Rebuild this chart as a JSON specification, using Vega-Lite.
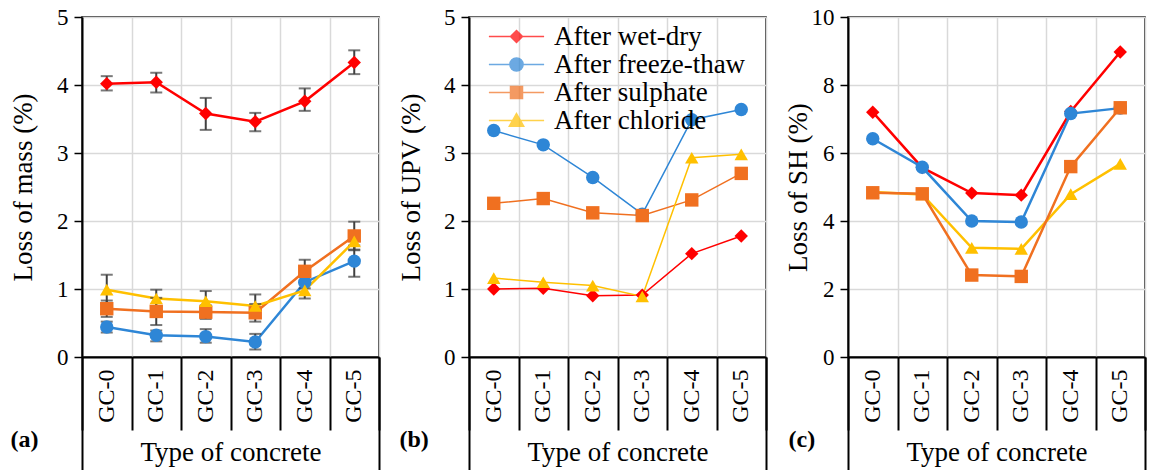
{
  "$schema": "https://vega.github.io/schema/vega-lite/v6.json",
  "padding": {"left": 8, "top": 5, "right": 0, "bottom": 0},
  "spacing": 15,
  "resolve": {"scale": {"color": "independent", "shape": "independent", "fill": "independent"}},
  "config": {
    "font": "Liberation Serif",
    "view": {"stroke": "#000", "strokeWidth": 1.5},
    "style": {"guide-label": {"font": "Liberation Serif"}, "guide-title": {"font": "Liberation Serif"}},
    "axis": {"labelColor": "#000", "titleColor": "#000", "titleFontWeight": "normal", "labelFont": "Liberation Serif", "titleFont": "Liberation Serif"},
    "legend": {"labelFont": "Liberation Serif", "titleFont": "Liberation Serif"}
  },
  "datasets": {
    "mass": [
      {"type": "GC-0", "series": "After wet-dry", "v": 4.02, "lo": 3.92, "hi": 4.13},
      {"type": "GC-1", "series": "After wet-dry", "v": 4.04, "lo": 3.89, "hi": 4.18},
      {"type": "GC-2", "series": "After wet-dry", "v": 3.58, "lo": 3.34, "hi": 3.81},
      {"type": "GC-3", "series": "After wet-dry", "v": 3.46, "lo": 3.32, "hi": 3.59},
      {"type": "GC-4", "series": "After wet-dry", "v": 3.76, "lo": 3.62, "hi": 3.95},
      {"type": "GC-5", "series": "After wet-dry", "v": 4.33, "lo": 4.16, "hi": 4.51},
      {"type": "GC-0", "series": "After freeze-thaw", "v": 0.44, "lo": 0.36, "hi": 0.52},
      {"type": "GC-1", "series": "After freeze-thaw", "v": 0.32, "lo": 0.23, "hi": 0.39},
      {"type": "GC-2", "series": "After freeze-thaw", "v": 0.30, "lo": 0.21, "hi": 0.41},
      {"type": "GC-3", "series": "After freeze-thaw", "v": 0.22, "lo": 0.11, "hi": 0.34},
      {"type": "GC-4", "series": "After freeze-thaw", "v": 1.10, "lo": 1.01, "hi": 1.19},
      {"type": "GC-5", "series": "After freeze-thaw", "v": 1.41, "lo": 1.18, "hi": 1.64},
      {"type": "GC-0", "series": "After sulphate", "v": 0.71, "lo": 0.59, "hi": 0.83},
      {"type": "GC-1", "series": "After sulphate", "v": 0.67, "lo": 0.47, "hi": 0.87},
      {"type": "GC-2", "series": "After sulphate", "v": 0.66, "lo": 0.56, "hi": 0.76},
      {"type": "GC-3", "series": "After sulphate", "v": 0.65, "lo": 0.52, "hi": 0.78},
      {"type": "GC-4", "series": "After sulphate", "v": 1.26, "lo": 1.09, "hi": 1.43},
      {"type": "GC-5", "series": "After sulphate", "v": 1.78, "lo": 1.57, "hi": 1.99},
      {"type": "GC-0", "series": "After chloride", "v": 0.99, "lo": 0.78, "hi": 1.21},
      {"type": "GC-1", "series": "After chloride", "v": 0.86, "lo": 0.74, "hi": 0.99},
      {"type": "GC-2", "series": "After chloride", "v": 0.82, "lo": 0.68, "hi": 0.97},
      {"type": "GC-3", "series": "After chloride", "v": 0.75, "lo": 0.58, "hi": 0.92},
      {"type": "GC-4", "series": "After chloride", "v": 0.98, "lo": 0.86, "hi": 1.10},
      {"type": "GC-5", "series": "After chloride", "v": 1.70, "lo": 1.58, "hi": 1.82}
    ],
    "upv": [
      {"type": "GC-0", "series": "After wet-dry", "v": 1.00},
      {"type": "GC-1", "series": "After wet-dry", "v": 1.01},
      {"type": "GC-2", "series": "After wet-dry", "v": 0.90},
      {"type": "GC-3", "series": "After wet-dry", "v": 0.91},
      {"type": "GC-4", "series": "After wet-dry", "v": 1.52},
      {"type": "GC-5", "series": "After wet-dry", "v": 1.78},
      {"type": "GC-0", "series": "After freeze-thaw", "v": 3.33},
      {"type": "GC-1", "series": "After freeze-thaw", "v": 3.12},
      {"type": "GC-2", "series": "After freeze-thaw", "v": 2.64},
      {"type": "GC-3", "series": "After freeze-thaw", "v": 2.10},
      {"type": "GC-4", "series": "After freeze-thaw", "v": 3.49},
      {"type": "GC-5", "series": "After freeze-thaw", "v": 3.64},
      {"type": "GC-0", "series": "After sulphate", "v": 2.26},
      {"type": "GC-1", "series": "After sulphate", "v": 2.33},
      {"type": "GC-2", "series": "After sulphate", "v": 2.12},
      {"type": "GC-3", "series": "After sulphate", "v": 2.08},
      {"type": "GC-4", "series": "After sulphate", "v": 2.31},
      {"type": "GC-5", "series": "After sulphate", "v": 2.70},
      {"type": "GC-0", "series": "After chloride", "v": 1.16},
      {"type": "GC-1", "series": "After chloride", "v": 1.10},
      {"type": "GC-2", "series": "After chloride", "v": 1.05},
      {"type": "GC-3", "series": "After chloride", "v": 0.89},
      {"type": "GC-4", "series": "After chloride", "v": 2.93},
      {"type": "GC-5", "series": "After chloride", "v": 2.98}
    ],
    "sh": [
      {"type": "GC-0", "series": "After wet-dry", "v": 7.20},
      {"type": "GC-1", "series": "After wet-dry", "v": 5.57},
      {"type": "GC-2", "series": "After wet-dry", "v": 4.82},
      {"type": "GC-3", "series": "After wet-dry", "v": 4.76},
      {"type": "GC-4", "series": "After wet-dry", "v": 7.22},
      {"type": "GC-5", "series": "After wet-dry", "v": 8.97},
      {"type": "GC-0", "series": "After freeze-thaw", "v": 6.42},
      {"type": "GC-1", "series": "After freeze-thaw", "v": 5.58},
      {"type": "GC-2", "series": "After freeze-thaw", "v": 4.00},
      {"type": "GC-3", "series": "After freeze-thaw", "v": 3.97},
      {"type": "GC-4", "series": "After freeze-thaw", "v": 7.16},
      {"type": "GC-5", "series": "After freeze-thaw", "v": 7.32},
      {"type": "GC-0", "series": "After chloride", "v": 4.85},
      {"type": "GC-1", "series": "After chloride", "v": 4.78},
      {"type": "GC-2", "series": "After chloride", "v": 3.21},
      {"type": "GC-3", "series": "After chloride", "v": 3.18},
      {"type": "GC-4", "series": "After chloride", "v": 4.79},
      {"type": "GC-5", "series": "After chloride", "v": 5.68},
      {"type": "GC-0", "series": "After sulphate", "v": 4.83},
      {"type": "GC-1", "series": "After sulphate", "v": 4.80},
      {"type": "GC-2", "series": "After sulphate", "v": 2.41},
      {"type": "GC-3", "series": "After sulphate", "v": 2.37},
      {"type": "GC-4", "series": "After sulphate", "v": 5.60},
      {"type": "GC-5", "series": "After sulphate", "v": 7.33}
    ]
  },
  "hconcat": [
    {
      "width": 297, "height": 340,
      "data": {"name": "mass"},
      "resolve": {"axis": {"x": "independent"}},
      "layer": [
        {
          "mark": {"type": "line", "strokeWidth": 2.5},
          "encoding": {
            "x": {"field": "type", "type": "nominal", "scale": {"type": "band", "paddingInner": 0, "paddingOuter": 0},
              "axis": {"orient": "bottom", "tickBand": "extent", "grid": true, "gridColor": "#d9d9d9", "gridWidth": 1.5, "ticks": true, "tickSize": 73, "tickColor": "#000", "tickWidth": 2, "domain": true, "domainColor": "#000", "domainWidth": 2, "labels": false, "title": null}},
            "y": {"field": "v", "type": "quantitative", "title": "Loss of mass (%)", "scale": {"domain": [0, 5], "nice": false},
              "axis": {"values": [0, 1, 2, 3, 4, 5], "format": "d", "grid": true, "gridColor": "#d9d9d9", "gridWidth": 1.5, "domainColor": "#000", "domainWidth": 2, "tickColor": "#000", "tickWidth": 1.5, "tickSize": 8, "labelFont": "Liberation Serif", "labelFontSize": 23, "labelPadding": 6, "title": "Loss of mass (%)", "titleFont": "Liberation Serif", "titleFontSize": 27, "titleX": -59, "titleBaseline": "middle"}},
            "color": {"field": "series", "type": "nominal", "scale": {"domain": ["After chloride", "After sulphate", "After freeze-thaw", "After wet-dry"], "range": ["#FFC000", "#F07020", "#2E86D6", "#FF0000"]}, "legend": null}
          }
        },
        {
          "mark": {"type": "errorbar", "color": "#404040", "thickness": 2, "ticks": {"size": 12}},
          "encoding": {
            "x": {"field": "type", "type": "nominal", "scale": {"type": "band", "paddingInner": 0, "paddingOuter": 0}, "axis": null},
            "y": {"field": "lo", "type": "quantitative", "title": "Loss of mass (%)"},
            "y2": {"field": "hi"}
          }
        },
        {
          "mark": {"type": "point", "filled": true, "opacity": 1, "size": 180},
          "encoding": {
            "x": {"field": "type", "type": "nominal", "scale": {"type": "band", "paddingInner": 0, "paddingOuter": 0},
              "axis": {"orient": "bottom", "grid": false, "ticks": false, "tickSize": 0, "domain": false, "labels": true, "labelAngle": -90, "labelFont": "Liberation Serif", "labelFontSize": 24, "labelPadding": 12, "title": "Type of concrete", "titleFont": "Liberation Serif", "titleFontSize": 27, "titleY": 95, "titleBaseline": "middle"}},
            "y": {"field": "v", "type": "quantitative", "title": "Loss of mass (%)"},
            "color": {"field": "series", "type": "nominal", "legend": null},
            "shape": {"field": "series", "type": "nominal", "scale": {"domain": ["After freeze-thaw", "After wet-dry", "After sulphate", "After chloride"], "range": ["circle", "diamond", "square", "triangle-up"]}, "legend": null}
          }
        },
        {
          "transform": [{"filter": "false"}],
          "mark": {"type": "point"},
          "encoding": {
            "x": {"field": "type", "type": "nominal", "scale": {"type": "band", "paddingInner": 0, "paddingOuter": 0},
              "axis": {"orient": "bottom", "values": ["GC-0"], "bandPosition": 0, "grid": false, "ticks": true, "tickSize": 114, "tickColor": "#000", "tickWidth": 2, "domain": false, "labels": false, "title": "(a)", "titleFont": "Liberation Serif", "titleFontSize": 24, "titleFontWeight": "bold", "titleX": -72, "titleY": 82, "titleAlign": "left", "titleBaseline": "middle"}}
          }
        },
        {
          "transform": [{"filter": "false"}],
          "mark": {"type": "point"},
          "encoding": {
            "x": {"field": "type", "type": "nominal", "scale": {"type": "band", "paddingInner": 0, "paddingOuter": 0},
              "axis": {"orient": "bottom", "values": ["GC-5"], "bandPosition": 1, "grid": false, "ticks": true, "tickSize": 114, "tickColor": "#000", "tickWidth": 2, "domain": false, "labels": false, "title": null}}
          }
        }
      ]
    },
    {
      "width": 297, "height": 340,
      "data": {"name": "upv"},
      "resolve": {"axis": {"x": "independent"}},
      "layer": [
        {
          "mark": {"type": "line", "strokeWidth": 1.5},
          "encoding": {
            "x": {"field": "type", "type": "nominal", "scale": {"type": "band", "paddingInner": 0, "paddingOuter": 0},
              "axis": {"orient": "bottom", "tickBand": "extent", "grid": true, "gridColor": "#d9d9d9", "gridWidth": 1.5, "ticks": true, "tickSize": 73, "tickColor": "#000", "tickWidth": 2, "domain": true, "domainColor": "#000", "domainWidth": 2, "labels": false, "title": null}},
            "y": {"field": "v", "type": "quantitative", "title": "Loss of UPV (%)", "scale": {"domain": [0, 5], "nice": false},
              "axis": {"values": [0, 1, 2, 3, 4, 5], "format": "d", "grid": true, "gridColor": "#d9d9d9", "gridWidth": 1.5, "domainColor": "#000", "domainWidth": 2, "tickColor": "#000", "tickWidth": 1.5, "tickSize": 8, "labelFont": "Liberation Serif", "labelFontSize": 23, "labelPadding": 6, "title": "Loss of UPV (%)", "titleFont": "Liberation Serif", "titleFontSize": 27, "titleX": -58, "titleBaseline": "middle"}},
            "color": {"field": "series", "type": "nominal", "scale": {"domain": ["After chloride", "After sulphate", "After freeze-thaw", "After wet-dry"], "range": ["#FFC000", "#F07020", "#2E86D6", "#FF0000"]}, "legend": null}
          }
        },
        {
          "mark": {"type": "point", "filled": true, "opacity": 1, "size": 180},
          "encoding": {
            "x": {"field": "type", "type": "nominal", "scale": {"type": "band", "paddingInner": 0, "paddingOuter": 0},
              "axis": {"orient": "bottom", "grid": false, "ticks": false, "tickSize": 0, "domain": false, "labels": true, "labelAngle": -90, "labelFont": "Liberation Serif", "labelFontSize": 24, "labelPadding": 12, "title": "Type of concrete", "titleFont": "Liberation Serif", "titleFontSize": 27, "titleY": 95, "titleBaseline": "middle"}},
            "y": {"field": "v", "type": "quantitative", "title": "Loss of UPV (%)"},
            "color": {"field": "series", "type": "nominal", "legend": null},
            "shape": {"field": "series", "type": "nominal", "scale": {"domain": ["After freeze-thaw", "After wet-dry", "After sulphate", "After chloride"], "range": ["circle", "diamond", "square", "triangle-up"]}, "legend": null}
          }
        },
        {
          "transform": [{"filter": "false"}],
          "mark": {"type": "point"},
          "encoding": {
            "x": {"field": "type", "type": "nominal", "scale": {"type": "band", "paddingInner": 0, "paddingOuter": 0},
              "axis": {"orient": "bottom", "values": ["GC-0"], "bandPosition": 0, "grid": false, "ticks": true, "tickSize": 114, "tickColor": "#000", "tickWidth": 2, "domain": false, "labels": false, "title": "(b)", "titleFont": "Liberation Serif", "titleFontSize": 24, "titleFontWeight": "bold", "titleX": -70, "titleY": 82, "titleAlign": "left", "titleBaseline": "middle"}}
          }
        },
        {
          "transform": [{"filter": "false"}],
          "mark": {"type": "point"},
          "encoding": {
            "x": {"field": "type", "type": "nominal", "scale": {"type": "band", "paddingInner": 0, "paddingOuter": 0},
              "axis": {"orient": "bottom", "values": ["GC-5"], "bandPosition": 1, "grid": false, "ticks": true, "tickSize": 114, "tickColor": "#000", "tickWidth": 2, "domain": false, "labels": false, "title": null}}
          }
        },
        {
          "transform": [{"filter": "false"}],
          "mark": {"type": "point", "filled": true},
          "encoding": {
            "fill": {"field": "series", "type": "nominal", "scale": {"domain": ["After wet-dry", "After freeze-thaw", "After sulphate", "After chloride"], "range": ["#FF0000", "#2E86D6", "#F07020", "#FFC000"]},
              "legend": {"title": null, "orient": "none", "legendX": 34, "legendY": 6, "labelFont": "Liberation Serif", "labelFontSize": 27, "labelColor": "#000", "symbolSize": 144, "symbolStrokeWidth": 1.5,
                "symbolStrokeColor": {"expr": "datum.value === 'After wet-dry' ? '#FF0000' : datum.value === 'After freeze-thaw' ? '#2E86D6' : datum.value === 'After sulphate' ? '#F07020' : '#FFC000'"},
                "symbolType": {"expr": "datum.value === 'After wet-dry' ? 'M-4.6,0H4.6M0,-1L1,0L0,1L-1,0Z' : datum.value === 'After freeze-thaw' ? 'M-4.6,0H4.6M1.1,0A1.1,1.1,0,1,1,-1.1,0A1.1,1.1,0,1,1,1.1,0Z' : datum.value === 'After sulphate' ? 'M-4.6,0H4.6M-1,-1H1V1H-1Z' : 'M-4.6,0H4.6M0,-1.15L1.2,0.95H-1.2Z'"},
                "labelOffset": 24, "rowPadding": 0, "padding": 0, "labelLimit": 400}}
          }
        }
      ]
    },
    {
      "width": 297, "height": 340,
      "data": {"name": "sh"},
      "resolve": {"axis": {"x": "independent"}},
      "layer": [
        {
          "mark": {"type": "line", "strokeWidth": 2.5},
          "encoding": {
            "x": {"field": "type", "type": "nominal", "scale": {"type": "band", "paddingInner": 0, "paddingOuter": 0},
              "axis": {"orient": "bottom", "tickBand": "extent", "grid": true, "gridColor": "#d9d9d9", "gridWidth": 1.5, "ticks": true, "tickSize": 73, "tickColor": "#000", "tickWidth": 2, "domain": true, "domainColor": "#000", "domainWidth": 2, "labels": false, "title": null}},
            "y": {"field": "v", "type": "quantitative", "title": "Loss of SH (%)", "scale": {"domain": [0, 10], "nice": false},
              "axis": {"values": [0, 2, 4, 6, 8, 10], "format": "d", "grid": true, "gridColor": "#d9d9d9", "gridWidth": 1.5, "domainColor": "#000", "domainWidth": 2, "tickColor": "#000", "tickWidth": 1.5, "tickSize": 8, "labelFont": "Liberation Serif", "labelFontSize": 23, "labelPadding": 6, "title": "Loss of SH (%)", "titleFont": "Liberation Serif", "titleFontSize": 27, "titleX": -50, "titleBaseline": "middle"}},
            "color": {"field": "series", "type": "nominal", "scale": {"domain": ["After chloride", "After sulphate", "After freeze-thaw", "After wet-dry"], "range": ["#FFC000", "#F07020", "#2E86D6", "#FF0000"]}, "legend": null}
          }
        },
        {
          "mark": {"type": "point", "filled": true, "opacity": 1, "size": 180},
          "encoding": {
            "x": {"field": "type", "type": "nominal", "scale": {"type": "band", "paddingInner": 0, "paddingOuter": 0},
              "axis": {"orient": "bottom", "grid": false, "ticks": false, "tickSize": 0, "domain": false, "labels": true, "labelAngle": -90, "labelFont": "Liberation Serif", "labelFontSize": 24, "labelPadding": 12, "title": "Type of concrete", "titleFont": "Liberation Serif", "titleFontSize": 27, "titleY": 95, "titleBaseline": "middle"}},
            "y": {"field": "v", "type": "quantitative", "title": "Loss of SH (%)"},
            "color": {"field": "series", "type": "nominal", "legend": null},
            "shape": {"field": "series", "type": "nominal", "scale": {"domain": ["After freeze-thaw", "After wet-dry", "After sulphate", "After chloride"], "range": ["circle", "diamond", "square", "triangle-up"]}, "legend": null}
          }
        },
        {
          "transform": [{"filter": "false"}],
          "mark": {"type": "point"},
          "encoding": {
            "x": {"field": "type", "type": "nominal", "scale": {"type": "band", "paddingInner": 0, "paddingOuter": 0},
              "axis": {"orient": "bottom", "values": ["GC-0"], "bandPosition": 0, "grid": false, "ticks": true, "tickSize": 114, "tickColor": "#000", "tickWidth": 2, "domain": false, "labels": false, "title": "(c)", "titleFont": "Liberation Serif", "titleFontSize": 24, "titleFontWeight": "bold", "titleX": -60, "titleY": 82, "titleAlign": "left", "titleBaseline": "middle"}}
          }
        },
        {
          "transform": [{"filter": "false"}],
          "mark": {"type": "point"},
          "encoding": {
            "x": {"field": "type", "type": "nominal", "scale": {"type": "band", "paddingInner": 0, "paddingOuter": 0},
              "axis": {"orient": "bottom", "values": ["GC-5"], "bandPosition": 1, "grid": false, "ticks": true, "tickSize": 114, "tickColor": "#000", "tickWidth": 2, "domain": false, "labels": false, "title": null}}
          }
        }
      ]
    }
  ]
}
